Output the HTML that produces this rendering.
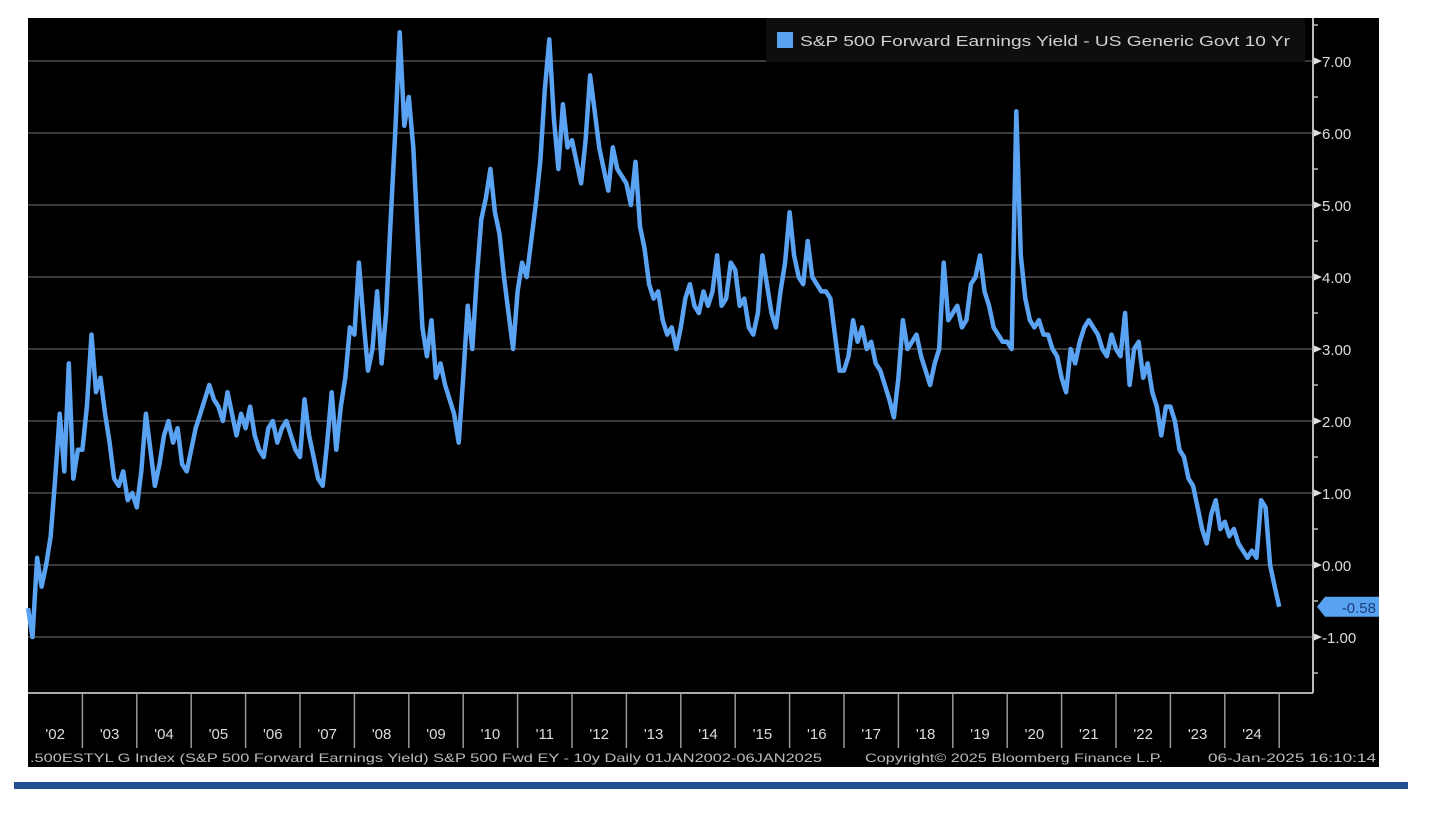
<!DOCTYPE html>
<html><head><meta charset="utf-8"><style>
html,body{margin:0;padding:0;background:#fff;width:1436px;height:816px;overflow:hidden}
svg{display:block;font-family:"Liberation Sans",sans-serif}
</style></head><body>
<svg id="chart" width="1436" height="816" viewBox="0 0 1436 816" xmlns="http://www.w3.org/2000/svg">
<rect x="28" y="18" width="1351" height="749" fill="#000"/>
<g id="grid"></g>
<g id="xaxis"></g>
<g id="yaxis"></g>
<polyline id="line" fill="none" stroke="#5aa2f2" stroke-width="4.5" stroke-linejoin="round"/>
<g>
<rect x="766" y="18" width="539" height="44" fill="#0e0e0e"/>
<rect x="777" y="32" width="16" height="16" fill="#5aa2f2"/>
<text x="800" y="46" font-size="15" fill="#d0d0d0" textLength="490" lengthAdjust="spacingAndGlyphs">S&amp;P 500 Forward Earnings Yield - US Generic Govt 10 Yr</text>
</g>
<g id="lastTag"></g>
<text x="30" y="762" font-size="12" fill="#bbb" textLength="792" lengthAdjust="spacingAndGlyphs">.500ESTYL G Index (S&amp;P 500 Forward Earnings Yield) S&amp;P 500 Fwd EY - 10y  Daily 01JAN2002-06JAN2025</text>
<text x="865" y="762" font-size="12" fill="#bbb" textLength="298" lengthAdjust="spacingAndGlyphs">Copyright© 2025 Bloomberg Finance L.P.</text>
<text x="1208" y="762" font-size="12" fill="#bbb" textLength="168" lengthAdjust="spacingAndGlyphs">06-Jan-2025 16:10:14</text>
<rect x="14" y="782" width="1394" height="7" fill="#244f93"/>
</svg>
<script>
const yearLabels = ["'02","'03","'04","'05","'06","'07","'08","'09","'10","'11","'12","'13","'14","'15","'16","'17","'18","'19","'20","'21","'22","'23","'24"];
const yTicks = [7,6,5,4,3,2,1,0,-1];
const lastValue = -0.58;
const y2002 = [-0.6,-1.0,0.1,-0.3,0.0,0.4,1.2,2.1,1.3,2.8,1.2,1.6];
const y2003 = [1.6,2.2,3.2,2.4,2.6,2.1,1.7,1.2,1.1,1.3,0.9,1.0];
const y2004 = [0.8,1.3,2.1,1.6,1.1,1.4,1.8,2.0,1.7,1.9,1.4,1.3];
const y2005 = [1.6,1.9,2.1,2.3,2.5,2.3,2.2,2.0,2.4,2.1,1.8,2.1];
const y2006 = [1.9,2.2,1.8,1.6,1.5,1.9,2.0,1.7,1.9,2.0,1.8,1.6];
const y2007 = [1.5,2.3,1.8,1.5,1.2,1.1,1.7,2.4,1.6,2.2,2.6,3.3];
const y2008 = [3.2,4.2,3.4,2.7,3.0,3.8,2.8,3.5,4.8,6.0,7.4,6.1];
const y2009 = [6.5,5.8,4.5,3.3,2.9,3.4,2.6,2.8,2.5,2.3,2.1,1.7];
const y2010 = [2.6,3.6,3.0,4.0,4.8,5.1,5.5,4.9,4.6,4.0,3.5,3.0];
const y2011 = [3.8,4.2,4.0,4.5,5.0,5.6,6.6,7.3,6.2,5.5,6.4,5.8];
const y2012 = [5.9,5.6,5.3,5.9,6.8,6.3,5.8,5.5,5.2,5.8,5.5,5.4];
const y2013 = [5.3,5.0,5.6,4.7,4.4,3.9,3.7,3.8,3.4,3.2,3.3,3.0];
const y2014 = [3.3,3.7,3.9,3.6,3.5,3.8,3.6,3.8,4.3,3.6,3.7,4.2];
const y2015 = [4.1,3.6,3.7,3.3,3.2,3.5,4.3,3.9,3.5,3.3,3.8,4.2];
const y2016 = [4.9,4.3,4.0,3.9,4.5,4.0,3.9,3.8,3.8,3.7,3.2,2.7];
const y2017 = [2.7,2.9,3.4,3.1,3.3,3.0,3.1,2.8,2.7,2.5,2.3,2.05];
const y2018 = [2.6,3.4,3.0,3.1,3.2,2.9,2.7,2.5,2.8,3.0,4.2,3.4];
const y2019 = [3.5,3.6,3.3,3.4,3.9,4.0,4.3,3.8,3.6,3.3,3.2,3.1];
const y2020 = [3.1,3.0,6.3,4.3,3.7,3.4,3.3,3.4,3.2,3.2,3.0,2.9];
const y2021 = [2.6,2.4,3.0,2.8,3.1,3.3,3.4,3.3,3.2,3.0,2.9,3.2];
const y2022 = [3.0,2.9,3.5,2.5,3.0,3.1,2.6,2.8,2.4,2.2,1.8,2.2];
const y2023 = [2.2,2.0,1.6,1.5,1.2,1.1,0.8,0.5,0.3,0.7,0.9,0.5];
const y2024 = [0.6,0.4,0.5,0.3,0.2,0.1,0.2,0.1,0.9,0.8,0.0,-0.3];
const y2025 = [-0.58];

const NS = "http://www.w3.org/2000/svg";
const X0 = 28, YEARW = 54.4, START = 2002;
const xScale = t => X0 + (t - START) * YEARW;
const yScale = v => 565 - 72 * v;
const PL = 28, PR = 1313, PT = 18, PB = 693;

function mk(tag, attrs, parent){const e=document.createElementNS(NS,tag);for(const k in attrs)e.setAttribute(k,attrs[k]);parent.appendChild(e);return e;}

const grid = document.getElementById('grid');
const yaxis = document.getElementById('yaxis');
yTicks.forEach(v=>{
  const y = yScale(v);
  const g = mk('line',{x1:PL,x2:PR,y1:y,y2:y,stroke:'#3a3a3a','stroke-width':2},grid);
  
  
  const tk = mk('polygon',{points:`${PR},${y-4} ${PR+9},${y} ${PR},${y+4}`,fill:'#ddd'},yaxis);
  
  
  const t = mk('text',{x:PR+9,y:y+6,'font-size':15,fill:'#ddd'},yaxis);
  t.textContent = (v<0?'-':'')+Math.abs(v).toFixed(2);
  
  
});
for(let v=-1.5; v<=7.5; v+=1){
  const y=yScale(v);
  const m = mk('line',{x1:PR,x2:PR+5,y1:y,y2:y,stroke:'#bbb','stroke-width':1.5},yaxis);
  
  
}
const ax = mk('line',{x1:PR,x2:PR,y1:PT,y2:PB,stroke:'#bbb','stroke-width':2},yaxis);



const xaxis = document.getElementById('xaxis');
const bx = mk('line',{x1:PL,x2:PR,y1:PB,y2:PB,stroke:'#aaa','stroke-width':2},xaxis);


yearLabels.forEach((lab,i)=>{
  const xs = xScale(START+i+1);
  const sep = mk('line',{x1:xs,x2:xs,y1:PB,y2:748,stroke:'#999','stroke-width':1.5},xaxis);
  
  
  const t = mk('text',{x:xScale(START+i+0.5),y:739,'font-size':15,fill:'#ddd','text-anchor':'middle'},xaxis);
  t.textContent = lab;
  
  
});

const years = [y2002,y2003,y2004,y2005,y2006,y2007,y2008,y2009,y2010,y2011,y2012,y2013,y2014,y2015,y2016,y2017,y2018,y2019,y2020,y2021,y2022,y2023,y2024,y2025];
const pts = [];
years.forEach((arr,yi)=>arr.forEach((v,mi)=>{
  pts.push(xScale(START+yi+mi/12).toFixed(1)+','+yScale(v).toFixed(1));
}));
document.getElementById('line').setAttribute('points',pts.join(' '));

const tag = document.getElementById('lastTag');
const ly = yScale(lastValue);
const tp = mk('polygon',{points:`${PR+4},${ly} ${PR+12},${ly-10} 1379,${ly-10} 1379,${ly+10} ${PR+12},${ly+10}`,fill:'#5aa2f2'},tag);


const tt = mk('text',{x:1376,y:ly+6,'font-size':15,fill:'#1a3d7a','text-anchor':'end'},tag);
tt.textContent = lastValue.toFixed(2);


</script>
</body></html>
